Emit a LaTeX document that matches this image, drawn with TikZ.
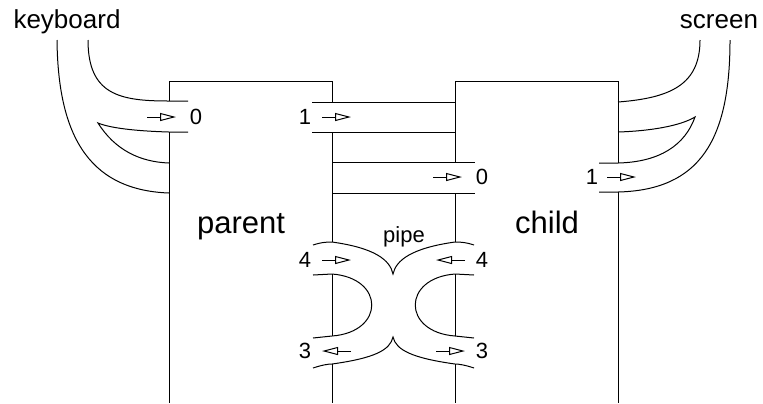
\documentclass[tikz,border=0pt]{standalone}
\usepackage{fontspec}
\setmainfont{Liberation Sans}
\usetikzlibrary{arrows.meta}

\begin{document}
\begin{tikzpicture}[
  x=0.5pt, y=-0.5pt,
  wall/.style = {draw=black, line width=0.5pt},
  tube/.style = {draw=black, line width=0.5pt},
  fd/.style   = {-{Triangle[open, length=8pt, width=4pt]}, line width=0.5pt},
  num/.style  = {font=\fontsize{11}{13}\selectfont, inner sep=0pt},
  dev/.style  = {font=\fontsize{13}{15}\selectfont, inner sep=0pt, anchor=base},
  proc/.style = {font=\fontsize{15.5}{18}\selectfont, inner sep=0pt, anchor=base},
]
\useasboundingbox (0,0) rectangle (763,403);

% --- the two processes (open at the bottom, broken where a tube passes) ---------
\draw[wall] (169,101) -- (169,81) -- (332,81) -- (332,102);
\draw[wall] (169,132) -- (169,403);
\draw[wall] (332,132) -- (332,242);
\draw[wall] (332,274) -- (332,336);
\draw[wall] (332,364) -- (332,403);
\draw[wall] (455,162) -- (455,81) -- (618,81) -- (618,163);
\draw[wall] (455,193) -- (455,242);
\draw[wall] (455,274) -- (455,336);
\draw[wall] (455,364) -- (455,403);
\draw[wall] (618,192) -- (618,403);

\node[proc] (parent) at (241,233) {parent};
\node[proc] (child)  at (547,233) {child};

% --- keyboard: into fd 0 of the parent ------------------------------------------
\node[dev] (keyboard) at (67,28) {keyboard};
\draw[tube] (88,40) .. controls (88,95) and (120,101) .. (169,101) -- (188,101);
\draw[tube] (188,132) -- (169,132) .. controls (135,131) and (110,128) .. (98,123)
            .. controls (115,150) and (140,162) .. (169,163);
\draw[tube] (57,40) .. controls (58,130) and (85,190) .. (169,193);
\draw[fd] (147,117) -- (176,117);
\node[num] (kin) at (196,117) {0};

% --- screen: out of fd 1 of the child -------------------------------------------
\node[dev] (screen) at (719,28) {screen};
\draw[tube] (700,40) .. controls (700,85) and (670,98) .. (618,102);
\draw[tube] (618,132) .. controls (650,131) and (680,126) .. (695,117)
            .. controls (685,145) and (660,162) .. (618,163) -- (599,163);
\draw[tube] (730,40) .. controls (730,140) and (700,190) .. (618,192) -- (599,192);
\draw[fd] (607,177) -- (636,177);
\node[num] (cout) at (592,177) {1};

% --- parent fd 1 feeds child fd 0 -----------------------------------------------
\draw[tube] (312,102) -- (455,102);
\draw[tube] (312,132) -- (455,132);
\draw[fd] (322,117) -- (351,117);
\node[num] (pout) at (305,117) {1};

\draw[tube] (332,162) -- (475,162);
\draw[tube] (332,193) -- (475,193);
\draw[fd] (433,177) -- (462,177);
\node[num] (cin) at (482,177) {0};

% --- the pipe: fd 4 of each side crosses to fd 3 of the other -------------------
\node[num, anchor=base] (pipe) at (404,242) {pipe};
\draw[tube] (313,245) .. controls (322,242) and (328,242) .. (332,242)
            .. controls (375,248) and (390,260) .. (393,274)
            .. controls (396,260) and (412,248) .. (455,242)
            .. controls (459,242) and (465,242) .. (474,245);
\draw[tube] (313,368) .. controls (322,365) and (328,364) .. (332,364)
            .. controls (375,358) and (390,350) .. (393,337)
            .. controls (396,350) and (412,358) .. (455,364)
            .. controls (459,364) and (465,365) .. (474,368);
\draw[tube] (313,275) -- (332,274) .. controls (385,278) and (385,332) .. (332,336) -- (313,338);
\draw[tube] (474,275) -- (455,274) .. controls (402,278) and (402,332) .. (455,336) -- (474,338);

\draw[fd] (322,260) -- (351,260);
\node[num] (pw) at (305,260) {4};
\draw[fd] (465,260) -- (436,260);
\node[num] (cw) at (482,260) {4};
\draw[fd] (351,351) -- (322,351);
\node[num] (pr) at (305,351) {3};
\draw[fd] (436,351) -- (465,351);
\node[num] (cr) at (482,351) {3};

\end{tikzpicture}
\end{document}
